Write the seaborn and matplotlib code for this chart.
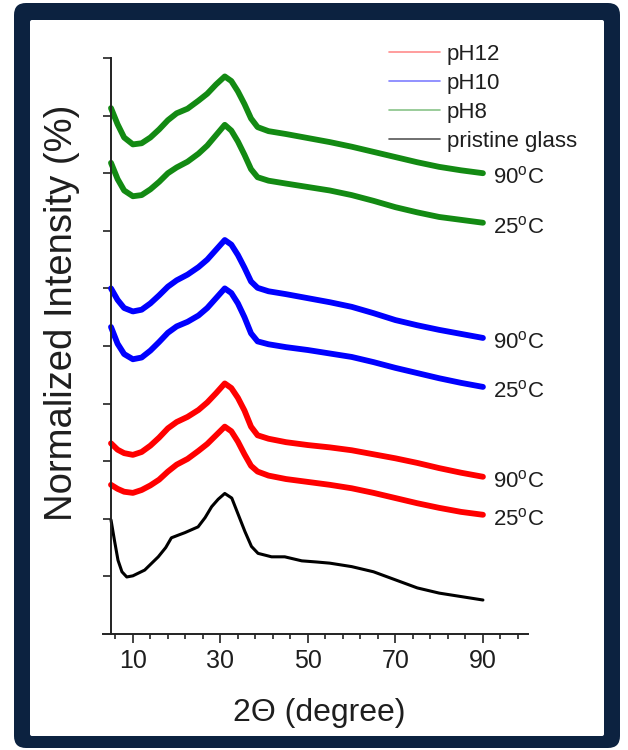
import matplotlib
matplotlib.use("Agg")
import numpy as np
import pandas as pd
import matplotlib.pyplot as plt
import seaborn as sns
from matplotlib.patches import FancyBboxPatch
from matplotlib.lines import Line2D
from matplotlib.ticker import FixedLocator

# ---------------- data ----------------
two_theta_ph = [5, 6.5, 8, 10, 12, 14, 16, 18, 20, 22.5, 25, 27, 29, 31, 32.5, 34, 35.5,
                37, 38.5, 41, 45, 50, 55, 60, 65, 70, 75, 80, 85, 90]
ph8_90 = [9.13, 8.85, 8.62, 8.50, 8.52, 8.62, 8.76, 8.92, 9.04, 9.12, 9.26, 9.38, 9.54, 9.68,
          9.60, 9.42, 9.20, 8.95, 8.80, 8.73, 8.68, 8.61, 8.54, 8.46, 8.37, 8.28, 8.19, 8.11,
          8.05, 8.00]
ph8_25 = [8.18, 7.90, 7.70, 7.60, 7.62, 7.72, 7.85, 8.00, 8.10, 8.20, 8.34, 8.48, 8.66, 8.84,
          8.74, 8.55, 8.32, 8.07, 7.93, 7.87, 7.82, 7.76, 7.70, 7.62, 7.52, 7.41, 7.32, 7.24,
          7.19, 7.14]
ph10_90 = [6.00, 5.80, 5.66, 5.60, 5.63, 5.74, 5.88, 6.03, 6.14, 6.24, 6.37, 6.50, 6.67, 6.84,
           6.76, 6.58, 6.36, 6.12, 6.01, 5.95, 5.90, 5.83, 5.76, 5.68, 5.57, 5.45, 5.36, 5.28,
           5.21, 5.14]
ph10_25 = [5.33, 5.04, 4.86, 4.77, 4.80, 4.92, 5.07, 5.23, 5.34, 5.42, 5.53, 5.66, 5.83, 6.00,
           5.92, 5.74, 5.50, 5.22, 5.08, 5.03, 4.98, 4.93, 4.87, 4.81, 4.72, 4.62, 4.53, 4.44,
           4.36, 4.29]
ph12_90 = [3.31, 3.20, 3.14, 3.11, 3.16, 3.27, 3.41, 3.57, 3.68, 3.77, 3.89, 4.02, 4.18, 4.35,
           4.27, 4.10, 3.88, 3.60, 3.45, 3.39, 3.33, 3.28, 3.24, 3.19, 3.12, 3.05, 2.97, 2.88,
           2.80, 2.73]
ph12_25 = [2.59, 2.52, 2.47, 2.45, 2.50, 2.58, 2.68, 2.82, 2.94, 3.04, 3.18, 3.30, 3.45, 3.60,
           3.52, 3.34, 3.12, 2.92, 2.82, 2.75, 2.69, 2.64, 2.59, 2.53, 2.45, 2.36, 2.27, 2.19,
           2.12, 2.07]

two_theta_glass = [5, 5.8, 6.6, 7.5, 8.6, 10, 12.7, 15.8, 17.5, 18.8, 20.5, 21.9, 24.9, 26.5,
                   28, 29.5, 31, 32.6, 34.1, 35.6, 37.1, 38.6, 41.7, 44.7, 48.6, 52, 55, 60,
                   65, 70, 75, 80, 85, 90]
glass = [1.98, 1.62, 1.28, 1.08, 0.99, 1.01, 1.11, 1.34, 1.50, 1.67, 1.72, 1.76, 1.86, 2.02,
         2.21, 2.34, 2.44, 2.36, 2.07, 1.78, 1.52, 1.40, 1.34, 1.34, 1.27, 1.25, 1.23, 1.17,
         1.08, 0.94, 0.80, 0.71, 0.65, 0.59]

legend_labels = ["pH12", "pH10", "pH8", "pristine glass"]
temp_labels = ["90$^{\\mathregular{o}}$C", "25$^{\\mathregular{o}}$C"]
x_major = [10, 30, 50, 70, 90]

# ---------------- styling ----------------
sns.set_theme(style="ticks")
plt.rcParams['font.family'] = ['Liberation Sans', 'DejaVu Sans']
plt.rcParams['mathtext.fontset'] = 'custom'
plt.rcParams['mathtext.rm'] = 'Liberation Sans'

RED, BLUE, GREEN, BLACK = "#ff0000", "#0000ff", "#138a13", "#000000"
TXT = "#1e1e1e"
NAVY = "#0c2240"

series = [
    ("pH8 90", two_theta_ph, ph8_90, GREEN, 4.2, temp_labels[0]),
    ("pH8 25", two_theta_ph, ph8_25, GREEN, 4.2, temp_labels[1]),
    ("pH10 90", two_theta_ph, ph10_90, BLUE, 4.2, temp_labels[0]),
    ("pH10 25", two_theta_ph, ph10_25, BLUE, 4.2, temp_labels[1]),
    ("pH12 90", two_theta_ph, ph12_90, RED, 4.2, temp_labels[0]),
    ("pH12 25", two_theta_ph, ph12_25, RED, 4.2, temp_labels[1]),
    ("glass", two_theta_glass, glass, BLACK, 2.2, None),
]

fig = plt.figure(figsize=(6.28, 7.5), dpi=100)
fig.patch.set_facecolor("white")

# navy frame
frame = FancyBboxPatch((0.14, 0.02), 6.06, 7.45,
                       boxstyle="round,pad=0,rounding_size=0.12",
                       transform=fig.dpi_scale_trans, facecolor=NAVY,
                       edgecolor="none", zorder=-20)
inner = FancyBboxPatch((0.30, 0.14), 5.74, 7.16,
                       boxstyle="round,pad=0,rounding_size=0.02",
                       transform=fig.dpi_scale_trans, facecolor="white",
                       edgecolor="none", zorder=-19)
fig.patches.extend([frame, inner])

ax = fig.add_axes([103 / 628, 116 / 750, 425 / 628, 576 / 750])
ax.set_facecolor("none")

for name, xs, ys, col, lw, tlab in series:
    df = pd.DataFrame({"two_theta": xs, "intensity": ys})
    sns.lineplot(data=df, x="two_theta", y="intensity", color=col, lw=lw,
                 ax=ax, sort=False, estimator=None, legend=False,
                 solid_joinstyle="round", solid_capstyle="round")
    if tlab is not None:
        ax.text(92.3, ys[-1] - 0.08, tlab, fontsize=16, color=TXT,
                ha="left", va="center")

ax.set_xlim(3.17, 100.3)
ax.set_ylim(0, 10)

ax.spines["top"].set_visible(False)
ax.spines["right"].set_visible(False)
ax.spines["left"].set_position(("data", 5))
for s in ("left", "bottom"):
    ax.spines[s].set_linewidth(1.4)
    ax.spines[s].set_color("#222222")

ax.set_yticks(range(1, 11))
ax.set_yticklabels([])
ax.set_xticks(x_major)
ax.set_xticklabels([str(v) for v in x_major])
ax.xaxis.set_minor_locator(FixedLocator([v for v in range(6, 100, 4) if v not in x_major]))
ax.tick_params(axis="y", direction="out", length=5.5, width=1.2, color="#222222")
ax.tick_params(axis="x", which="major", direction="out", length=6.5, width=1.2,
               color="#222222", labelsize=18, labelcolor=TXT, pad=4)
ax.tick_params(axis="x", which="minor", direction="out", length=3.8, width=1.2,
               color="#222222")
ax.set_xlabel("")
ax.set_ylabel("")

fig.text(319 / 628, 1 - 713 / 750, "2Θ (degree)", fontsize=23, color=TXT,
         ha="center", va="center")
fig.text(62 / 628, 1 - 313 / 750, "Normalized Intensity (%)", fontsize=27.5,
         color=TXT, ha="center", va="center", rotation=90)

handles = [Line2D([0], [0], color=c, lw=1.2, alpha=a)
           for c, a in ((RED, 0.45), (BLUE, 0.5), (GREEN, 0.5), ("#444444", 0.9))]
fig.legend(handles, legend_labels, loc="upper left",
           bbox_to_anchor=(389 / 628, 1 - 44 / 750), frameon=False,
           fontsize=16, handlelength=2.3, handletextpad=0.3,
           labelspacing=0.36, borderpad=0, borderaxespad=0,
           labelcolor=TXT)

fig.savefig("out.png", dpi=100)
